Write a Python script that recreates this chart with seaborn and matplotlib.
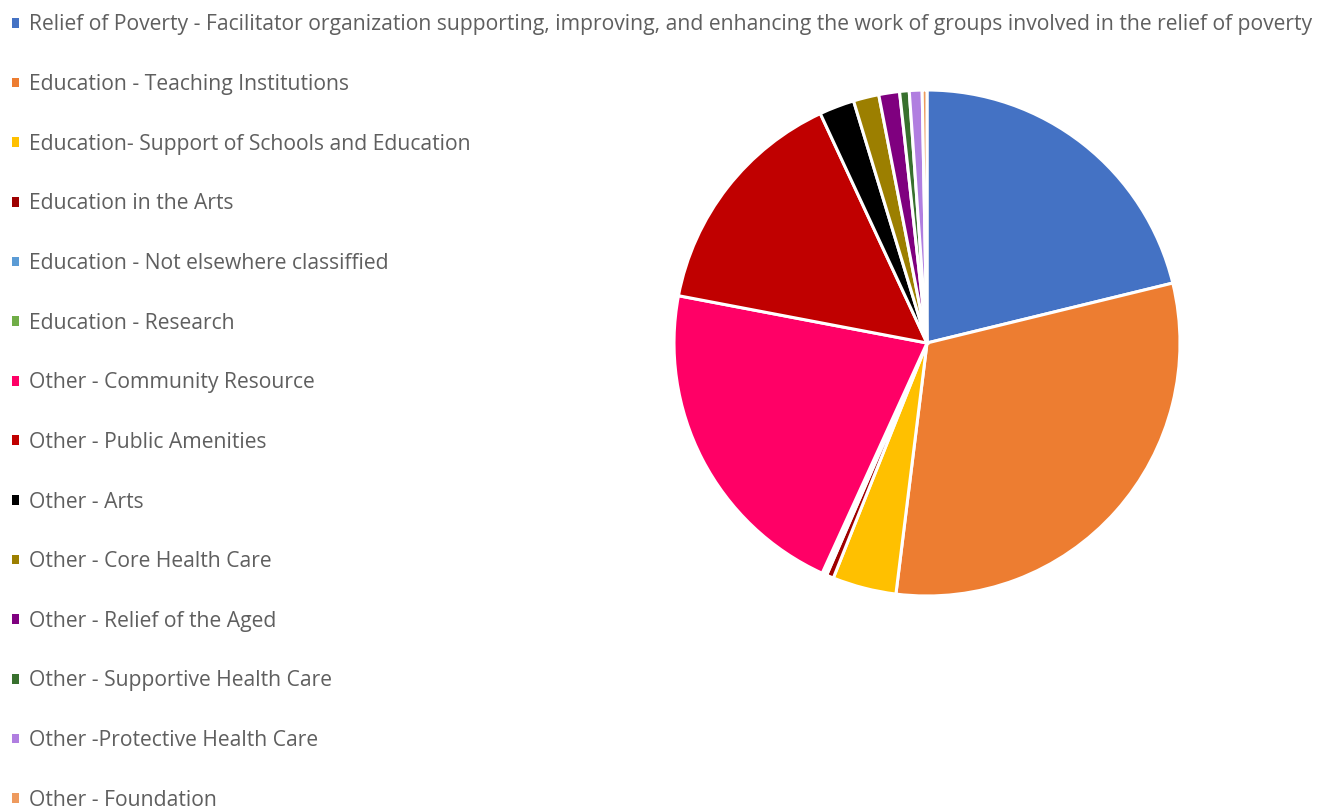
import matplotlib
matplotlib.use("Agg")
import matplotlib.pyplot as plt
import seaborn as sns
from matplotlib.patches import Patch

categories = [
    "Relief of Poverty - Facilitator organization supporting, improving, and enhancing the work of groups involved in the relief of poverty",
    "Education - Teaching Institutions",
    "Education- Support of Schools and Education",
    "Education in the Arts",
    "Education - Not elsewhere classiffied",
    "Education - Research",
    "Other - Community Resource",
    "Other - Public Amenities",
    "Other - Arts",
    "Other - Core Health Care",
    "Other - Relief of the Aged",
    "Other - Supportive Health Care",
    "Other -Protective Health Care",
    "Other - Foundation",
]
values = [20.8, 30.2, 4.0, 0.45, 0.15, 0.15, 20.8, 14.8, 2.2, 1.6, 1.3, 0.6, 0.8, 0.3]
colors = ["#4472C4", "#ED7D31", "#FFC000", "#9E0000", "#5B9BD5", "#70AD47",
          "#FF0066", "#C00000", "#000000", "#9C7F00", "#7F007F", "#38702E",
          "#B07EE0", "#EE9A5E"]

sns.set_theme(style="white")
plt.rcParams['font.family'] = ['Open Sans', 'DejaVu Sans']

W, H = 1341, 810
fig = plt.figure(figsize=(W / 100, H / 100), dpi=100)
cx, cy, r = 927, 343, 253
ax = fig.add_axes([(cx - r) / W, (H - cy - r) / H, 2 * r / W, 2 * r / H])
wedges, _ = ax.pie(values, colors=colors, startangle=90, counterclock=False,
                   wedgeprops=dict(edgecolor="white", linewidth=2.2), radius=1)
ax.set_xlim(-1, 1)
ax.set_ylim(-1, 1)
ax.set_aspect("equal")
ax.axis("off")

handles = [Patch(facecolor=c, edgecolor="none") for c in colors]
leg = fig.legend(handles, categories, loc="upper left", bbox_to_anchor=(0.0025, 0.9926),
                 frameon=False, fontsize=15.2, labelcolor="#5f5f5f",
                 handlelength=0.33, handleheight=0.33, handletextpad=0.48,
                 labelspacing=1.83, borderaxespad=0.0, borderpad=0.4)

fig.savefig("out.png", dpi=100, facecolor="white")
